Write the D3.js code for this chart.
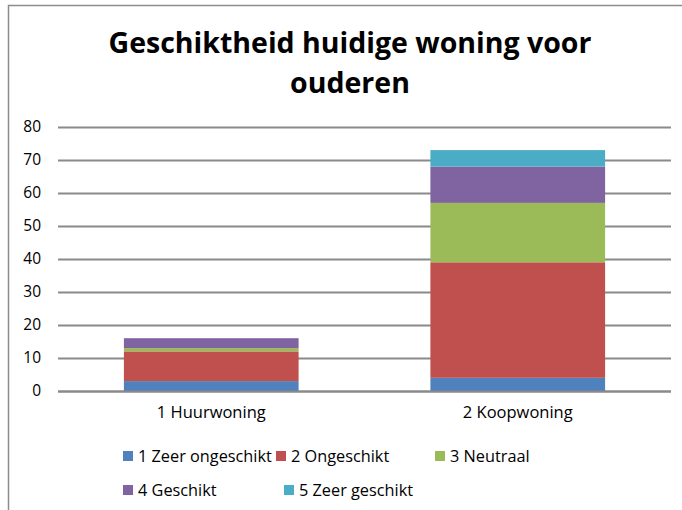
<!DOCTYPE html>
<html>
<head>
<meta charset="utf-8">
<script src="https://cdn.jsdelivr.net/npm/d3@7"></script>
<style>
    body { margin: 0; background: #fff; }
    text { font-family: "Open Sans", "Liberation Sans", sans-serif; fill: #000; }
</style>
</head>
<body>
<script>
(function() {
    // chart data
    var categories = ["1 Huurwoning", "2 Koopwoning"];
    var seriesNames = ["1 Zeer ongeschikt", "2 Ongeschikt", "3 Neutraal", "4 Geschikt", "5 Zeer geschikt"];
    var seriesColors = ["#4F81BD", "#C0504D", "#9BBB59", "#8064A2", "#4BACC6"];
    var zeerOngeschikt = [3, 4];
    var ongeschikt = [9, 35];
    var neutraal = [1, 18];
    var geschikt = [3, 11];
    var zeerGeschikt = [0, 5];
    var yTicks = [0, 10, 20, 30, 40, 50, 60, 70, 80];
    var titleLines = ["Geschiktheid huidige woning voor", "ouderen"];

    var width = 682, height = 510;
    var plot = { left: 58, right: 671, top: 127, bottom: 391 };

    var svg = d3.select("body").append("svg")
        .attr("width", width)
        .attr("height", height);

    // chart frame
    svg.append("path")
        .attr("d", "M8.5," + height + "V5.5H" + width)
        .attr("fill", "none")
        .attr("stroke", "#8c8c8c")
        .attr("stroke-width", 1.5);

    // title
    svg.append("g").selectAll("text")
        .data(titleLines)
        .enter().append("text")
        .attr("x", 350)
        .attr("y", function(d, i) { return 53 + i * 40; })
        .attr("text-anchor", "middle")
        .style("font-size", "28.5px")
        .style("font-weight", "bold")
        .text(function(d) { return d; });

    // scales
    var x = d3.scaleBand()
        .domain(categories)
        .range([plot.left, plot.right])
        .paddingInner(0.43)
        .paddingOuter(0.215);

    var y = d3.scaleLinear()
        .domain([0, 80])
        .range([plot.bottom, plot.top]);

    // gridlines
    svg.append("g")
        .selectAll("line")
        .data(yTicks)
        .enter().append("line")
        .attr("x1", plot.left)
        .attr("x2", plot.right)
        .attr("y1", function(d) { return Math.round(y(d)) + 0.5; })
        .attr("y2", function(d) { return Math.round(y(d)) + 0.5; })
        .attr("stroke", "#8a8a8a")
        .attr("stroke-width", 2);

    // y axis labels
    var yAxis = d3.axisLeft(y)
        .tickValues(yTicks)
        .tickSize(0)
        .tickPadding(17);
    var yg = svg.append("g")
        .attr("transform", "translate(" + plot.left + ",0)")
        .call(yAxis);
    yg.select(".domain").remove();
    yg.selectAll("text")
        .style("font-size", "15.5px")
        .style("font-family", "'Open Sans', sans-serif")
        .attr("fill", "#000");

    // stacked bars
    var rows = categories.map(function(c, i) {
        return {
            category: c,
            s0: zeerOngeschikt[i],
            s1: ongeschikt[i],
            s2: neutraal[i],
            s3: geschikt[i],
            s4: zeerGeschikt[i]
        };
    });
    var keys = ["s0", "s1", "s2", "s3", "s4"];
    var stacked = d3.stack().keys(keys)(rows);

    svg.append("g")
        .selectAll("g")
        .data(stacked)
        .enter().append("g")
        .attr("fill", function(d, i) { return seriesColors[i]; })
        .selectAll("rect")
        .data(function(d) { return d; })
        .enter().append("rect")
        .attr("x", function(d) { return x(d.data.category); })
        .attr("width", x.bandwidth())
        .attr("y", function(d) { return y(d[1]); })
        .attr("height", function(d) { return y(d[0]) - y(d[1]); });

    // baseline over bars
    svg.append("line")
        .attr("x1", plot.left)
        .attr("x2", plot.right)
        .attr("y1", Math.round(y(0)) + 0.5)
        .attr("y2", Math.round(y(0)) + 0.5)
        .attr("stroke", "#8a8a8a")
        .attr("stroke-width", 2);

    // x axis labels
    var xAxis = d3.axisBottom(x)
        .tickSize(0)
        .tickPadding(15);
    var xg = svg.append("g")
        .attr("transform", "translate(0," + plot.bottom + ")")
        .call(xAxis);
    xg.select(".domain").remove();
    xg.selectAll("text")
        .style("font-size", "16.5px")
        .style("font-family", "'Open Sans', sans-serif")
        .attr("fill", "#000");

    // legend
    var legendPos = [[123, 456], [276, 456], [435, 456], [123, 490], [284, 490]];
    var legend = svg.append("g")
        .selectAll("g")
        .data(seriesNames)
        .enter().append("g")
        .attr("transform", function(d, i) {
            return "translate(" + legendPos[i][0] + "," + legendPos[i][1] + ")";
        });
    legend.append("rect")
        .attr("x", 0)
        .attr("y", -5)
        .attr("width", 10)
        .attr("height", 10)
        .attr("fill", function(d, i) { return seriesColors[i]; });
    legend.append("text")
        .attr("x", 15)
        .attr("y", 0)
        .attr("dy", "0.35em")
        .style("font-size", "16.3px")
        .text(function(d) { return d; });
})();
</script>
</body>
</html>
